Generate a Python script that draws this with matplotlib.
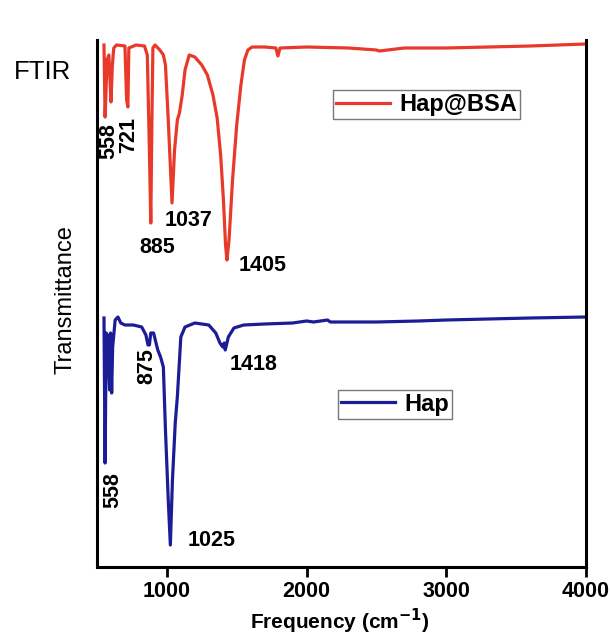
import matplotlib
matplotlib.use("Agg")
import matplotlib.pyplot as plt
from matplotlib.lines import Line2D

plt.rcParams['font.family'] = ['Liberation Sans', 'DejaVu Sans']

# Hap@BSA spectrum (wavenumber, arbitrary transmittance)
bsa_wn = [550, 558, 572, 585, 600, 610, 620, 640, 700, 712, 721, 728, 780, 840, 860, 875, 885,
          893, 900, 915, 950, 975, 990, 1010, 1037, 1055, 1075, 1090, 1110, 1130, 1160, 1200,
          1250, 1290, 1330, 1360, 1385, 1405, 1420, 1430, 1445, 1470, 1500, 1530, 1555, 1580, 1610,
          1700, 1780, 1795, 1810, 2000, 2300, 2500, 2520, 2700, 3000, 3300, 3600, 4000]
bsa_px = [45, 117, 60, 55, 102, 65, 48, 45, 46, 100, 107, 48, 45, 46, 55, 150, 223,
          120, 48, 45, 50, 55, 65, 120, 203, 150, 120, 113, 95, 70, 55, 57,
          65, 75, 95, 118, 155, 200, 245, 260, 240, 180, 125, 85, 60, 50, 47,
          47, 48, 56, 48, 47, 48, 50, 51, 48, 48, 47, 46, 44]

# Hap spectrum
hap_wn = [550, 558, 566, 575, 590, 597, 605, 612, 630, 650, 670, 700, 760, 820, 850, 865, 875,
          885, 905, 935, 955, 975, 990, 1010, 1025, 1040, 1060, 1075, 1100, 1130, 1200, 1300,
          1350, 1380, 1400, 1410, 1418, 1440, 1480, 1550, 1700, 1900, 2000, 2050, 2150, 2170,
          2300, 2500, 2800, 3000, 3300, 3600, 4000]
hap_px = [318, 463, 333, 335, 390, 333, 393, 347, 320, 317, 323, 325, 325, 327, 335, 345, 345,
          333, 333, 350, 357, 367, 430, 500, 545, 480, 423, 397, 337, 327, 323, 325,
          333, 343, 347, 343, 350, 337, 328, 325, 324, 323, 321, 322, 320, 322,
          322, 322, 321, 320, 319, 318, 317]

bsa_T = [(567 - p) / 5.27 for p in bsa_px]
hap_T = [(567 - p) / 5.27 for p in hap_px]

# peak labels: text, x, y, rotation
peak_labels = [
    ("558", 585, 80.8, 90), ("721", 728, 82.0, 90), ("885", 928, 60.7, 0),
    ("1037", 1158, 65.7, 0), ("1405", 1687, 57.3, 0),
    ("558", 613, 14.6, 90), ("875", 857, 38.1, 90), ("1418", 1623, 38.5, 0),
    ("1025", 1322, 5.1, 0),
]

xticks = [1000, 2000, 3000, 4000]

red = '#e8392b'
blue = '#1c1c96'

fig = plt.figure(figsize=(6.11, 6.37), dpi=100)
ax = fig.add_axes([97/611, 1-567/637, 489/611, 527/637])

ax.plot(bsa_wn, bsa_T, color=red, lw=2.3, solid_joinstyle='round')
ax.plot(hap_wn, hap_T, color=blue, lw=2.3, solid_joinstyle='round')

ax.set_xlim(500, 4000)
ax.set_ylim(0, 100)
ax.set_yticks([])
ax.set_xticks(xticks)
ax.set_xticklabels([str(t) for t in xticks], fontsize=15.5, fontweight='bold')
ax.tick_params(axis='x', direction='out', length=7, width=2, pad=3)
ax.spines['top'].set_visible(False)
for s in ['left', 'right', 'bottom']:
    ax.spines[s].set_linewidth(2.2)

for txt, x, y, rot in peak_labels:
    ax.text(x, y, txt, rotation=rot, ha='center', va='center',
            fontsize=15.5, fontweight='bold')

h1 = [Line2D([], [], color=red, lw=2.3)]
leg1 = ax.legend(h1, ['Hap@BSA'], loc='upper left', bbox_to_anchor=(0.483, 0.905),
                 borderaxespad=0, fancybox=False, framealpha=1, edgecolor='#777777',
                 prop={'size': 17, 'weight': 'bold'}, handlelength=2.3,
                 borderpad=0.12, handletextpad=0.4)
leg1.get_frame().set_linewidth(1.0)
ax.add_artist(leg1)
h2 = [Line2D([], [], color=blue, lw=2.3)]
leg2 = ax.legend(h2, ['Hap'], loc='upper left', bbox_to_anchor=(0.493, 0.336),
                 borderaxespad=0, fancybox=False, framealpha=1, edgecolor='#777777',
                 prop={'size': 17, 'weight': 'bold'}, handlelength=2.3,
                 borderpad=0.12, handletextpad=0.4)
leg2.get_frame().set_linewidth(1.0)

fig.text(42/611, 1-72/637, "FTIR", ha='center', va='center', fontsize=18.5)
fig.text(65/611, 1-300/637, "Transmittance", ha='center', va='center',
         rotation=90, fontsize=17)
fig.text(340/611, 1-621/637, "Frequency (cm$^{\\mathbf{-1}}$)", ha='center', va='center',
         fontsize=15, fontweight='bold')

fig.savefig("out.png", dpi=100)
